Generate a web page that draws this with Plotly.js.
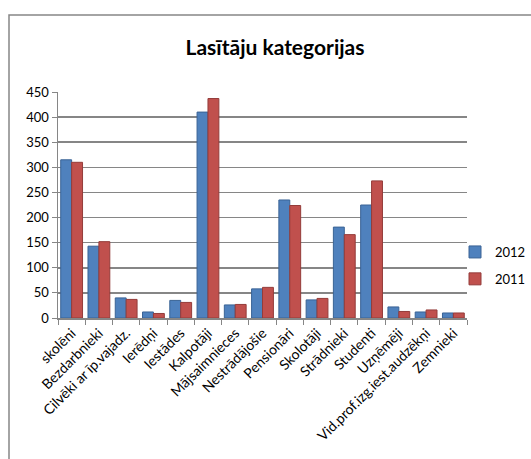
<!DOCTYPE html>
<html><head><meta charset="utf-8">
<script src="https://cdn.plot.ly/plotly-3.0.1.min.js"></script>
<style>html,body{margin:0;padding:0;background:#fff;}#chart{width:531px;height:459px;}</style>
</head><body><div id="chart"></div>
<script>
const categories = ["skolēni","Bezdarbnieki","Cilvēki ar īp.vajadz.","Ierēdņi","Iestādes","Kalpotāji","Mājsaimnieces","Nestrādājošie","Pensionāri","Skolotāji","Strādnieki","Studenti","Uzņēmēji","Vid.prof.izg.iest.audzēkņi","Zemnieki"];
const values2012 = [315,143,40,12,35,410,26,58,235,36,181,225,22,12,10];
const values2011 = [310,152,37,9,31,437,27,61,224,39,166,273,13,16,10];
const seriesNames = ["2012","2011"];

const L=58, R=467, T=92, B=318, W=531, H=459;
const px = x => (x-L)/(R-L), py = y => (B-y)/(B-T);

const traces = [
  {type:'bar', name:seriesNames[0], x:categories, y:values2012, legendgroup:'a',
   marker:{color:'#4F81BD', line:{color:'#3A6395', width:1}}},
  {type:'bar', name:seriesNames[1], x:categories, y:values2011, legendgroup:'b',
   marker:{color:'#C0504D', line:{color:'#943C3A', width:1}}}
];
const layout = {
  width:W, height:H,
  margin:{l:L, r:W-R, t:T, b:H-B, autoexpand:false},
  paper_bgcolor:'#fff', plot_bgcolor:'#fff',
  font:{family:'Lato, "Open Sans", sans-serif', size:13, color:'#000'},
  title:{text:'Lasītāju kategorijas', font:{family:'Lato, sans-serif', size:21, color:'#000', weight:'bold'}, x:275/W, xref:'container', xanchor:'center', y:1-48/H, yanchor:'middle'},
  barmode:'group', bargap:0.2, bargroupgap:0,
  xaxis:{type:'category', tickangle:-45, ticks:'outside', ticklen:5, tickcolor:'#868686', tickson:'boundaries',
         showline:true, linecolor:'#868686', linewidth:1.5, showgrid:false, tickfont:{size:14}, automargin:false},
  yaxis:{range:[0,450], dtick:50, ticks:'outside', ticklen:5, tickcolor:'#868686',
         showline:true, linecolor:'#868686', linewidth:1.5, gridcolor:'#868686', gridwidth:1.5,
         zeroline:false, tickfont:{size:13}, automargin:false},
  legend:{xref:'container', x:1.01, y:py(237), xanchor:'right', yanchor:'top', font:{size:13}, itemwidth:30, tracegroupgap:7, bgcolor:'rgba(0,0,0,0)'},
  shapes:[{type:'path', xref:'paper', yref:'paper',
    path:`M ${px(600)} ${py(15)} L ${px(9)} ${py(15)} L ${px(9)} ${py(470)}`,
    line:{color:'#868686', width:1.5}}],
  showlegend:true
};
Plotly.newPlot('chart', traces, layout, {staticPlot:true, displayModeBar:false});
</script></body></html>
